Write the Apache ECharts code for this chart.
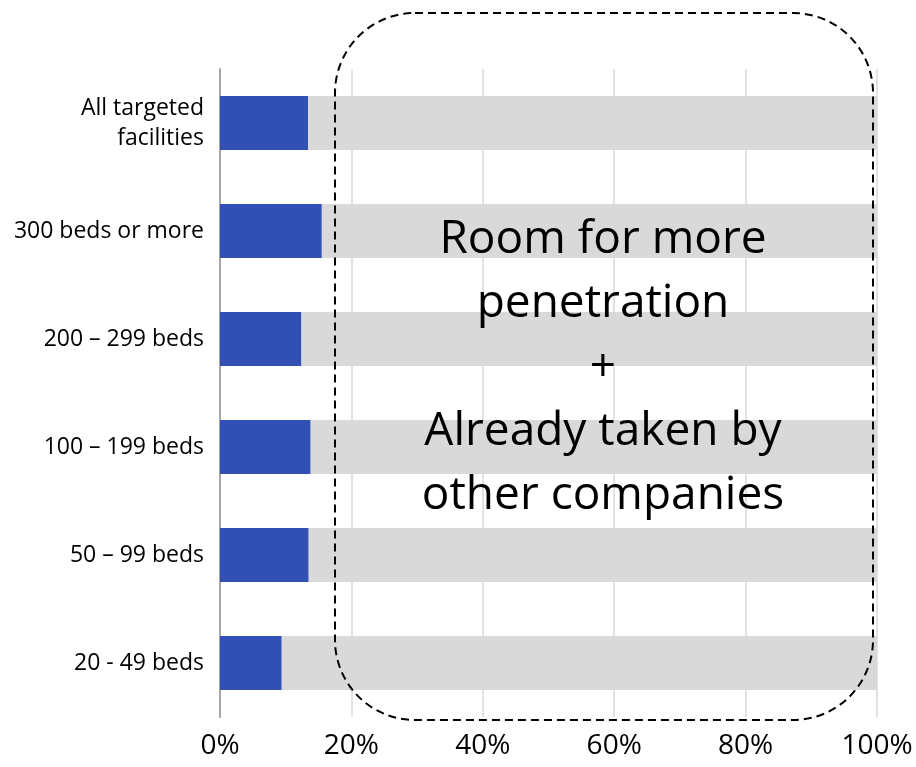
<!DOCTYPE html>
<html>
<head>
<meta charset="utf-8">
<script src="https://cdn.jsdelivr.net/npm/echarts@6/dist/echarts.min.js"></script>
<style>
  html, body { margin: 0; padding: 0; background: #ffffff; }
  #main { width: 916px; height: 767px; }
</style>
</head>
<body>
<div id="main"></div>
<script>
// categories, top to bottom
var categories = ["All targeted\nfacilities", "300 beds or more", "200 – 299 beds", "100 – 199 beds", "50 – 99 beds", "20 - 49 beds"];
// share already using the service (%)
var penetration = [13.4, 15.5, 12.4, 13.8, 13.5, 9.4];
// remainder up to 100%
var remainder = penetration.map(function (v) { return +(100 - v).toFixed(1); });
var xTicks = [0, 20, 40, 60, 80, 100];

var chart = echarts.init(document.getElementById("main"));
var font = "'Open Sans', 'Noto Sans', sans-serif";

// small vertical nudges for a couple of labels, as in the original slide
var labelShift = { 0: [12, 0, 0, 0], 1: [20, 0, 0, 0] };
var categoryData = categories.map(function (c, i) {
  return labelShift[i] ? { value: c, textStyle: { padding: labelShift[i] } } : c;
});

var option = {
  animation: false,
  backgroundColor: "#ffffff",
  grid: { left: 220, right: 39, top: 69, bottom: 50 },
  xAxis: {
    type: "value",
    min: xTicks[0],
    max: xTicks[xTicks.length - 1],
    interval: 20,
    axisLine: { show: false },
    axisTick: { show: false },
    splitLine: { lineStyle: { color: "#d9d9d9", width: 1.5 } },
    axisLabel: {
      formatter: "{value}%",
      fontSize: 28,
      color: "#000",
      fontFamily: font,
      margin: 15
    }
  },
  yAxis: {
    type: "category",
    inverse: true,
    data: categoryData,
    axisLine: { lineStyle: { color: "#a6a6a6", width: 2 } },
    axisTick: { show: false },
    axisLabel: {
      fontSize: 23,
      color: "#000",
      fontFamily: font,
      margin: 16,
      lineHeight: 30,
      align: "right"
    }
  },
  series: [
    {
      type: "bar",
      stack: "total",
      barWidth: "50%",
      data: penetration,
      itemStyle: { color: "#3250b4" }
    },
    {
      type: "bar",
      stack: "total",
      barWidth: "50%",
      data: remainder,
      itemStyle: { color: "#d9d9d9" }
    }
  ],
  graphic: [
    {
      type: "rect",
      shape: { x: 335, y: 13, width: 538, height: 707, r: 80 },
      style: { fill: null, stroke: "#000", lineWidth: 2, lineDash: [8, 5] },
      z: 100
    },
    {
      type: "text",
      x: 603,
      y: 368,
      style: {
        text: "Room for more\npenetration\n+\nAlready taken by\nother companies",
        font: "46px " + font,
        lineHeight: 64,
        fill: "#000",
        align: "center",
        verticalAlign: "middle"
      },
      z: 101
    }
  ]
};

chart.setOption(option);
</script>
</body>
</html>
